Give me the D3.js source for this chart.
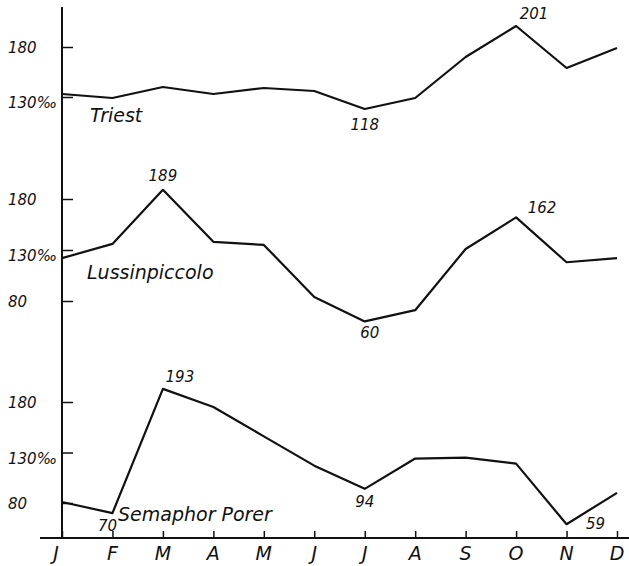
<!DOCTYPE html>
<html>
<head>
<meta charset="utf-8">
<script src="https://cdn.jsdelivr.net/npm/d3@7"></script>
<style>
  body { margin: 0; background: #fff; }
  text { font-family: "DejaVu Sans", sans-serif; font-style: italic; fill: #111; }
</style>
</head>
<body>
<svg width="629" height="566"></svg>
<script>
var months = ["J", "F", "M", "A", "M", "J", "J", "A", "S", "O", "N", "D"];
var triest = [133, 129, 140, 133, 139, 136, 118, 129, 170, 201, 159, 179];
var lussin = [122, 136, 189, 138, 135, 84, 60, 71, 131, 162, 118, 122];
var semaphor = [81, 70, 193, 175, 146, 117, 94, 124, 125, 119, 59, 90];
var names = ["Triest", "Lussinpiccolo", "Semaphor Porer"];

var svg = d3.select("svg"),
  width = +svg.attr("width"),
  height = +svg.attr("height");

var x0 = 62, baseY = 538;

var x = d3.scalePoint()
  .domain(d3.range(12))
  .range([x0, 617]);

// one y scale per panel
var panels = [
  {name: names[0], values: triest, y: d3.scaleLinear().domain([80, 180]).range([147, 47]),
   ticks: [130, 180], labelPos: [90, 122],
   notes: [[6, "118", 0, 21], [9, "201", 18, -7]]},
  {name: names[1], values: lussin, y: d3.scaleLinear().domain([80, 180]).range([301, 199]),
   ticks: [80, 130, 180], labelPos: [87, 279],
   notes: [[2, "189", 0, -9], [9, "162", 26, -4], [6, "60", 5, 17]]},
  {name: names[2], values: semaphor, y: d3.scaleLinear().domain([80, 180]).range([503, 402]),
   ticks: [80, 130, 180], labelPos: [118, 521],
   notes: [[2, "193", 17, -7], [1, "70", -5, 18], [6, "94", 0, 18], [10, "59", 29, 5]]}
];

// left axis line
svg.append("line")
  .attr("x1", x0).attr("x2", x0)
  .attr("y1", 7).attr("y2", baseY)
  .attr("stroke", "#111").attr("stroke-width", 2);

// bottom axis
var xAxis = svg.append("g")
  .attr("transform", "translate(0," + baseY + ")")
  .call(d3.axisTop(x).tickSize(7).tickFormat(""));
xAxis.select(".domain").remove();
xAxis.selectAll("line").attr("stroke", "#111").attr("stroke-width", 1.5);
svg.append("line")
  .attr("x1", 40).attr("x2", width)
  .attr("y1", baseY).attr("y2", baseY)
  .attr("stroke", "#111").attr("stroke-width", 2);

svg.selectAll(".month")
  .data(months)
  .enter().append("text")
  .attr("class", "month")
  .attr("x", function(d, i) { return i == 0 ? x(i) - 6 : x(i); })
  .attr("y", 560)
  .attr("text-anchor", "middle")
  .attr("font-size", 19)
  .text(function(d) { return d; });

var line = d3.line()
  .x(function(d, i) { return x(i); });

panels.forEach(function(p) {
  var yAxis = svg.append("g")
    .attr("transform", "translate(" + x0 + ",0)")
    .call(d3.axisRight(p.y).tickValues(p.ticks).tickSize(11).tickFormat(""));
  yAxis.select(".domain").remove();
  yAxis.selectAll("line").attr("stroke", "#111").attr("stroke-width", 1.5);

  svg.selectAll(null)
    .data(p.ticks)
    .enter().append("text")
    .attr("x", 8)
    .attr("y", function(d) { return p.y(d) + (d == 130 ? 11 : 6); })
    .attr("font-size", 15)
    .text(function(d) { return d == 130 ? "130‰" : d; });

  svg.append("path")
    .datum(p.values)
    .attr("d", line.y(function(d) { return p.y(d); }))
    .attr("fill", "none")
    .attr("stroke", "#111")
    .attr("stroke-width", 2.2)
    .attr("stroke-linejoin", "round");

  svg.append("text")
    .attr("x", p.labelPos[0])
    .attr("y", p.labelPos[1])
    .attr("font-size", 19)
    .text(p.name);

  svg.selectAll(null)
    .data(p.notes)
    .enter().append("text")
    .attr("x", function(d) { return x(d[0]) + d[2]; })
    .attr("y", function(d) { return p.y(p.values[d[0]]) + d[3]; })
    .attr("text-anchor", "middle")
    .attr("font-size", 15)
    .text(function(d) { return d[1]; });
});
</script>
</body>
</html>
